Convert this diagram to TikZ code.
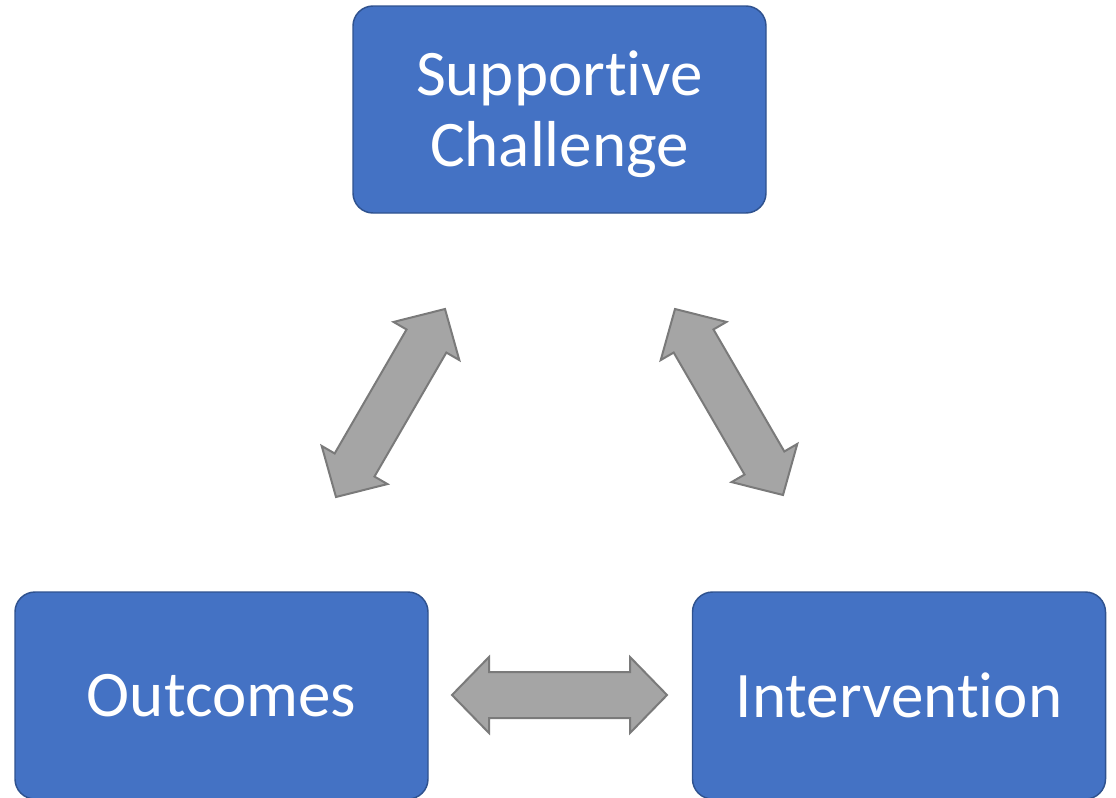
\documentclass[tikz,border=0pt]{standalone}
\usepackage{fontspec}
\setmainfont[Ligatures=NoCommon]{Carlito}
\usetikzlibrary{calc}

\definecolor{boxblue}{RGB}{68,114,196}
\definecolor{boxedge}{RGB}{47,82,143}
\definecolor{arrowgray}{RGB}{165,165,165}
\definecolor{arrowedge}{RGB}{122,122,122}

\tikzset{every picture/.style={line width=0.75pt}}
\tikzset{
  stage/.style={draw=boxedge, fill=boxblue, line width=1.1pt, rounded corners=15pt,
    minimum width=309.75pt, minimum height=155.25pt, inner sep=0pt, align=center,
    text=white, font=\fontsize{48.75}{53.25}\selectfont},
  blockarrow/.style={draw=arrowedge, fill=arrowgray, line width=1.5pt}
}

% sizes of the two-way block arrows
\newcommand{\arrhdlen}{27.75pt}
\newcommand{\arrhdhalf}{28.5pt}
\newcommand{\arrshhalf}{17.25pt}
% two-way block arrow from tip #1 to tip #2
\newcommand{\twoway}[2]{%
  \draw[blockarrow] (#1)
    -- ($(#1)!\arrhdlen!(#2)!\arrhdhalf!90:(#2)$)
    -- ($(#1)!\arrhdlen!(#2)!\arrshhalf!90:(#2)$)
    -- ($(#2)!\arrhdlen!(#1)!\arrshhalf!-90:(#1)$)
    -- ($(#2)!\arrhdlen!(#1)!\arrhdhalf!-90:(#1)$)
    -- (#2)
    -- ($(#2)!\arrhdlen!(#1)!\arrhdhalf!90:(#1)$)
    -- ($(#2)!\arrhdlen!(#1)!\arrshhalf!90:(#1)$)
    -- ($(#1)!\arrhdlen!(#2)!\arrshhalf!-90:(#2)$)
    -- ($(#1)!\arrhdlen!(#2)!\arrhdhalf!-90:(#2)$)
    -- cycle;}

\begin{document}
\begin{tikzpicture}[x=0.75pt,y=0.75pt,yscale=-1,xscale=1]
\useasboundingbox (0,0) rectangle (1116,797);

% Text Node
\node[stage] (sc) at (559.5,109.5) {\rule{0pt}{40pt}Supportive\\Challenge};
% Text Node
\node[stage] (oc) at (221.5,695.5) {Outcomes};
% Text Node
\node[stage] (iv) at (899,695.5) {Intervention};

%arrow tips
\coordinate (oc-up) at (336,497);
\coordinate (sc-dl) at (445,309);
\coordinate (sc-dr) at (675,309);
\coordinate (iv-up) at (783,495);
\coordinate (oc-rt) at (452,695);
\coordinate (iv-lt) at (667,695);

%Shape: Double Arrow
\twoway{oc-up}{sc-dl}
%Shape: Double Arrow
\twoway{sc-dr}{iv-up}
%Shape: Double Arrow
\twoway{oc-rt}{iv-lt}

\end{tikzpicture}
\end{document}
